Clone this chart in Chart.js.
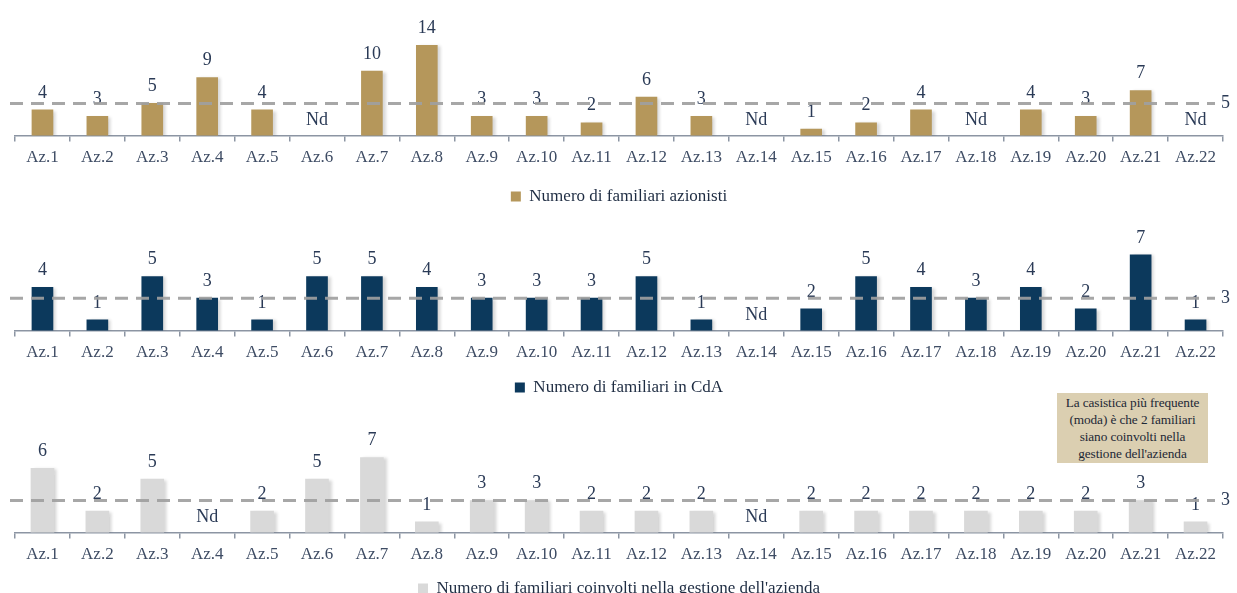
<!DOCTYPE html>
<html>
<head>
<meta charset="utf-8">
<script src="https://cdn.jsdelivr.net/npm/chart.js@4/dist/chart.umd.min.js"></script>
<style>
  html, body { margin: 0; padding: 0; background: #ffffff; }
  body { width: 1237px; height: 593px; position: relative; overflow: hidden; }
  .panel { position: absolute; left: -40px; }
  .panel canvas { display: block; }
  #note {
    position: absolute; left: 1057px; top: 393px; width: 151px; height: 70px;
    background: #dbcfb1; color: #1d2836; text-align: center;
    font-family: "Liberation Serif", serif; font-size: 13.3px; line-height: 17px;
    padding-top: 1px; box-sizing: border-box; letter-spacing: -0.1px;
  }
</style>
</head>
<body>
<div class="panel" style="top:0px"><canvas id="c1" width="1277" height="219"></canvas></div>
<div class="panel" style="top:200px"><canvas id="c2" width="1277" height="210"></canvas></div>
<div class="panel" style="top:400px"><canvas id="c3" width="1277" height="211"></canvas></div>
<div id="note">La casistica più frequente<br>(moda) è che 2 familiari<br>siano coinvolti nella<br>gestione dell'azienda</div>

<script>
// Companies on the x axis
const categories = ['Az.1', 'Az.2', 'Az.3', 'Az.4', 'Az.5', 'Az.6', 'Az.7', 'Az.8', 'Az.9', 'Az.10', 'Az.11',
                    'Az.12', 'Az.13', 'Az.14', 'Az.15', 'Az.16', 'Az.17', 'Az.18', 'Az.19', 'Az.20', 'Az.21', 'Az.22'];

// Family members per company (null = not available, shown as "Nd")
const azionisti = [4, 3, 5, 9, 4, null, 10, 14, 3, 3, 2, 6, 3, null, 1, 2, 4, null, 4, 3, 7, null];
const inCdA     = [4, 1, 5, 3, 1, 5, 5, 4, 3, 3, 3, 5, 1, null, 2, 5, 4, 3, 4, 2, 7, 1];
const gestione  = [6, 2, 5, null, 2, 5, 7, 1, 3, 3, 2, 2, 2, null, 2, 2, 2, 2, 2, 2, 3, 1];

// Reference (average) level drawn as a dashed line in each panel
const riferimenti = [5, 3, 3];

// Legend texts
const seriesNames = [
  'Numero di familiari azionisti',
  'Numero di familiari in CdA',
  'Numero di familiari coinvolti nella gestione dell\'azienda'
];

const FONT = '"Liberation Serif", "Times New Roman", serif';
const LABEL_COLOR = '#2a3a56';
const TICK_COLOR = '#3e4c64';

// Value labels, "Nd" markers, bar shadow and the dashed reference line
const decorations = {
  id: 'decorations',
  beforeDatasetsDraw(chart) {
    const ctx = chart.ctx;
    ctx.save();
    ctx.shadowColor = 'rgba(0,0,0,0.16)';
    ctx.shadowOffsetX = 3;
    ctx.shadowOffsetY = 1;
    ctx.shadowBlur = 3;
  },
  afterDatasetsDraw(chart, args, opts) {
    const ctx = chart.ctx;
    ctx.restore();
    const xs = chart.scales.x, ys = chart.scales.y;
    const values = chart.data.datasets[0].data;
    const area = chart.chartArea;

    ctx.save();
    ctx.font = '18px ' + FONT;
    ctx.fillStyle = LABEL_COLOR;
    ctx.textAlign = 'center';
    ctx.textBaseline = 'middle';
    values.forEach((v, i) => {
      const x = xs.getPixelForValue(i);
      if (v === null) {
        ctx.fillText('Nd', x, ys.getPixelForValue(0) - 15);
      } else {
        ctx.fillText(String(v), x, ys.getPixelForValue(v) - 17);
      }
    });

    const ly = ys.getPixelForValue(opts.level);
    ctx.strokeStyle = 'rgba(160,160,160,0.92)';
    ctx.lineWidth = 3;
    ctx.setLineDash([13, 8]);
    ctx.beginPath();
    ctx.moveTo(area.left - 5, ly);
    ctx.lineTo(area.right - 8, ly);
    ctx.stroke();
    ctx.setLineDash([]);
    ctx.textAlign = 'left';
    ctx.fillText(String(opts.level), area.right - 2, ly);
    ctx.restore();
  }
};

function makePanel(id, values, name, color, level, cfg) {
  new Chart(document.getElementById(id), {
    type: 'bar',
    data: {
      labels: categories,
      datasets: [{
        label: name,
        data: values,
        backgroundColor: color,
        borderWidth: 0,
        barThickness: cfg.barThickness
      }]
    },
    options: {
      responsive: false,
      animation: false,
      layout: { padding: { left: 55, right: 14, top: cfg.top, bottom: cfg.bottom } },
      scales: {
        x: {
          grid: { display: true, drawOnChartArea: false, drawTicks: true, tickLength: 6,
                  color: '#8c95a3', lineWidth: 1.5, offset: true },
          border: { display: true, color: '#8c95a3', width: 1.5 },
          ticks: { color: TICK_COLOR, font: { family: FONT, size: 17 }, padding: 6, maxRotation: 0, autoSkip: false }
        },
        y: { display: false, min: 0, max: cfg.max }
      },
      plugins: {
        legend: {
          position: 'bottom',
          labels: {
            color: '#1e2c42',
            font: { family: FONT, size: 17 },
            boxWidth: 10, boxHeight: 10,
            padding: cfg.legendPad
          }
        },
        tooltip: { enabled: false },
        decorations: { level: level }
      }
    },
    plugins: [decorations]
  });
}

makePanel('c1', azionisti, seriesNames[0], '#b5975b', riferimenti[0],
  { top: 39, bottom: 4, max: 15, barThickness: 21, legendPad: 14 });
makePanel('c2', inCdA, seriesNames[1], '#0c395c', riferimenti[1],
  { top: 44, bottom: 4, max: 8, barThickness: 21, legendPad: 10 });
makePanel('c3', gestione, seriesNames[2], '#d9d9d9', riferimenti[2],
  { top: 47, bottom: 4, max: 8, barThickness: 23, legendPad: 9 });
</script>
</body>
</html>
